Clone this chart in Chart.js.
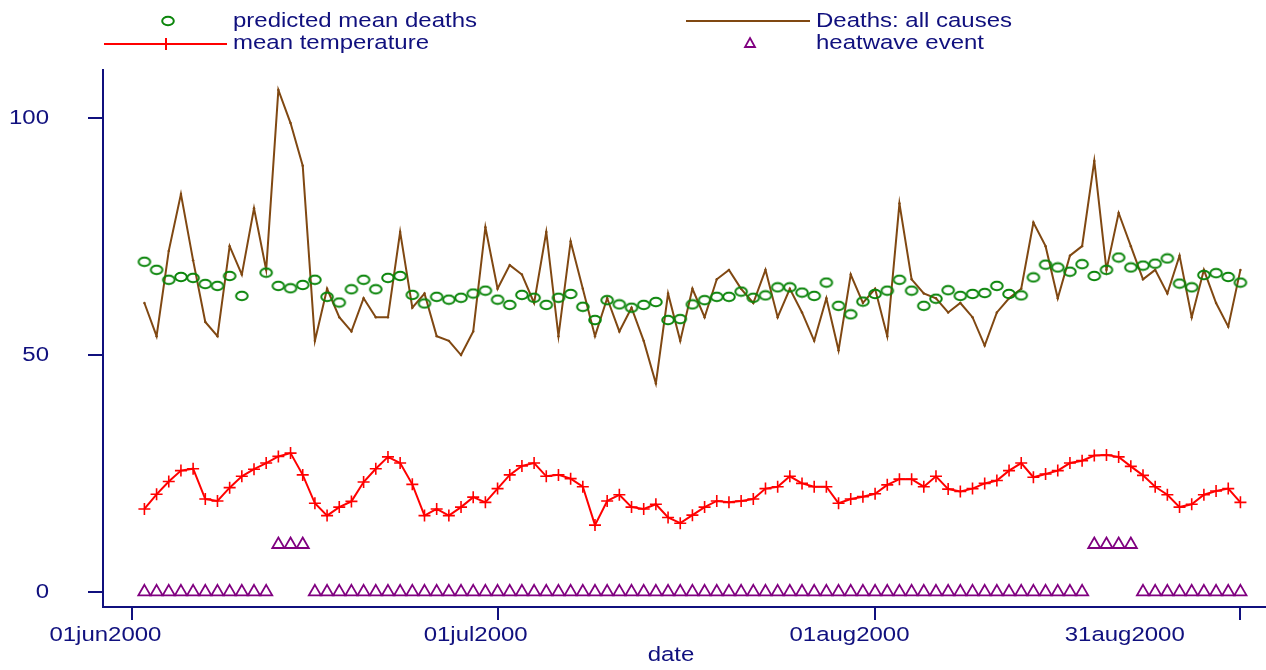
<!DOCTYPE html>
<html lang="en">
<head>
  <meta charset="UTF-8" />
  <title>Deaths, temperature and heatwaves - summer 2000</title>
  <script src="https://cdn.jsdelivr.net/npm/chart.js"></script>
  <style>
    * {
      margin: 0;
      padding: 0;
      box-sizing: border-box;
    }
    body {
      background: #fff;
      width: 1266px;
      height: 670px;
      overflow: hidden;
    }
    .chart-box {
      position: relative;
      width: 1266px;
      height: 670px;
    }
  </style>
</head>
<body>

  <div class="chart-box">
    <canvas id="deathsChart" width="1266" height="670"></canvas>
  </div>

  <script>
    // day number counted from 01jun2000 (day 0)
    const dayIndex = [
      1, 2, 3, 4, 5, 6, 7, 8, 9, 10, 11, 12, 13, 14, 15, 16, 17, 18, 19, 20,
      21, 22, 23, 24, 25, 26, 27, 28, 29, 30, 31, 32, 33, 34, 35, 36, 37, 38, 39, 40,
      41, 42, 43, 44, 45, 46, 47, 48, 49, 50, 51, 52, 53, 54, 55, 56, 57, 58, 59, 60,
      61, 62, 63, 64, 65, 66, 67, 68, 69, 70, 71, 72, 73, 74, 75, 76, 77, 78, 79, 80,
      81, 82, 83, 84, 85, 86, 87, 88, 89, 90, 91
    ];

    const deathsAll = [
      61, 54, 72, 84, 70, 57, 54, 73, 67, 81,
      68, 106, 99, 90, 53, 64, 58, 55, 62, 58,
      58, 76, 60, 63, 54, 53, 50, 55, 77, 64,
      69, 67, 61, 76, 54, 74, 64, 54, 62, 55,
      60, 53, 44, 63, 53, 64, 58, 66, 68, 64,
      61, 68, 58, 64, 59, 53, 62, 51, 67, 61,
      64, 54, 82, 66, 63, 62, 59, 61, 58, 52,
      59, 62, 64, 78, 73, 62, 71, 73, 91, 68,
      80, 73, 66, 68, 63, 71, 58, 68, 61, 56, 68
    ];

    const predictedDeaths = [
      69.7, 68.0, 65.9, 66.5, 66.3, 65.0, 64.6, 66.7, 62.5, null,
      67.4, 64.6, 64.1, 64.8, 65.9, 62.3, 61.1, 63.9, 65.9, 63.9,
      66.3, 66.7, 62.7, 60.9, 62.3, 61.7, 62.1, 63.0, 63.6, 61.7,
      60.6, 62.7, 62.1, 60.6, 62.1, 62.9, 60.2, 57.4, 61.6, 60.7,
      60.0, 60.6, 61.2, 57.4, 57.6, 60.7, 61.6, 62.3, 62.3, 63.4,
      62.1, 62.6, 64.3, 64.3, 63.2, 62.5, 65.3, 60.4, 58.6, 61.3,
      62.9, 63.6, 65.9, 63.6, 60.4, 61.9, 63.7, 62.5, 62.9, 63.1,
      64.6, 62.9, 62.6, 66.4, 69.1, 68.5, 67.6, 69.2, 66.7, 68.0,
      70.6, 68.5, 68.9, 69.3, 70.4, 65.1, 64.3, 66.9, 67.3, 66.5, 65.3
    ];

    const meanTemp = [
      17.5, 20.6, 23.3, 25.6, 26.0, 19.6, 19.2, 22.0, 24.4, 25.9,
      27.2, 28.6, 29.3, 24.7, 18.7, 16.1, 17.9, 19.1, 23.2, 26.0,
      28.5, 27.2, 22.7, 16.1, 17.5, 16.1, 17.9, 20.0, 18.9, 21.8,
      24.7, 26.6, 27.2, 24.4, 24.7, 23.9, 22.2, 14.1, 19.2, 20.5,
      17.9, 17.5, 18.5, 15.7, 14.5, 16.2, 17.9, 19.2, 18.9, 19.2,
      19.6, 21.8, 22.2, 24.4, 22.9, 22.2, 22.2, 18.7, 19.6, 20.1,
      20.7, 22.6, 23.8, 23.8, 22.2, 24.4, 21.7, 21.2, 21.8, 22.9,
      23.5, 25.6, 27.2, 24.2, 24.9, 25.6, 27.2, 27.7, 28.8, 28.9,
      28.5, 26.5, 24.6, 22.2, 20.5, 17.9, 18.5, 20.5, 21.3, 21.8, 18.9
    ];

    const heatwaveEvent = [
      0, 0, 0, 0, 0, 0, 0, 0, 0, 0,
      0, 10, 10, 10, 0, 0, 0, 0, 0, 0,
      0, 0, 0, 0, 0, 0, 0, 0, 0, 0,
      0, 0, 0, 0, 0, 0, 0, 0, 0, 0,
      0, 0, 0, 0, 0, 0, 0, 0, 0, 0,
      0, 0, 0, 0, 0, 0, 0, 0, 0, 0,
      0, 0, 0, 0, 0, 0, 0, 0, 0, 0,
      0, 0, 0, 0, 0, 0, 0, 0, 10, 10,
      10, 10, 0, 0, 0, 0, 0, 0, 0, 0, 0
    ];

    const xTickDays = [0, 30, 61, 91];
    const xTickLabels = ["01jun2000", "01jul2000", "01aug2000", "31aug2000"];
    const yTickValues = [0, 50, 100];

    const NAVY = "#10107e";
    const GREEN = "#0a850a";
    const BROWN = "#804812";
    const RED = "#ff0000";
    const PURPLE = "#800080";
    const FONT = "20.5px 'Liberation Sans', Arial, sans-serif";
    const TEXT_STRETCH = 1.17;   // the original text is drawn a bit wide

    // stata places the date labels left of their ticks, the last one a lot
    const xLabelAt = [-2.2, 28.2, 58.9, 81.5];

    const pts = (ys) => dayIndex.map((d, i) => ({ x: d, y: ys[i] }));

    function ellipseMarker(color) {
      const c = document.createElement("canvas");
      c.width = 16;
      c.height = 12;
      const g = c.getContext("2d");
      g.strokeStyle = color;
      g.lineWidth = 2;
      g.beginPath();
      g.ellipse(8, 6, 5.8, 4.2, 0, 0, Math.PI * 2);
      g.stroke();
      return c;
    }

    function wideText(ctx, text, x, y, align) {
      ctx.save();
      ctx.translate(x, y);
      ctx.scale(TEXT_STRETCH, 1);
      ctx.textAlign = align;
      ctx.textBaseline = "middle";
      ctx.fillText(text, 0, 0);
      ctx.restore();
    }

    const textPlugin = {
      id: "stataText",
      afterDraw(chart) {
        const ctx = chart.ctx;
        const xs = chart.scales.x;
        const ys = chart.scales.y;
        ctx.save();
        ctx.font = FONT;
        ctx.fillStyle = NAVY;

        yTickValues.forEach(v => wideText(ctx, String(v), 49, ys.getPixelForValue(v), "right"));
        xTickLabels.forEach((t, i) => wideText(ctx, t, xs.getPixelForValue(xLabelAt[i]), 635, "center"));
        wideText(ctx, "date", 671, 655, "center");

        // legend, two columns
        wideText(ctx, "predicted mean deaths", 233, 21, "left");
        wideText(ctx, "Deaths: all causes", 816, 21, "left");
        wideText(ctx, "mean temperature", 233, 43, "left");
        wideText(ctx, "heatwave event", 816, 43, "left");

        ctx.drawImage(ellipseMarker(GREEN), 160, 15);

        ctx.strokeStyle = BROWN;
        ctx.lineWidth = 2;
        ctx.beginPath();
        ctx.moveTo(686, 21);
        ctx.lineTo(810, 21);
        ctx.stroke();

        ctx.strokeStyle = RED;
        ctx.beginPath();
        ctx.moveTo(104, 44);
        ctx.lineTo(227, 44);
        ctx.moveTo(166, 38);
        ctx.lineTo(166, 50);
        ctx.stroke();

        ctx.strokeStyle = PURPLE;
        ctx.lineWidth = 1.8;
        ctx.beginPath();
        ctx.moveTo(750, 38);
        ctx.lineTo(755, 47);
        ctx.lineTo(745, 47);
        ctx.closePath();
        ctx.stroke();
        ctx.restore();
      }
    };

    const ctx = document.getElementById("deathsChart").getContext("2d");
    new Chart(ctx, {
      type: "line",
      data: {
        datasets: [
          {
            label: "heatwave event",
            data: pts(heatwaveEvent),
            showLine: false,
            pointStyle: "triangle",
            pointRadius: 7,
            pointBorderColor: PURPLE,
            pointBackgroundColor: "rgba(0,0,0,0)",
            pointBorderWidth: 1.8,
            order: 0
          },
          {
            label: "predicted mean deaths",
            data: pts(predictedDeaths),
            showLine: false,
            pointStyle: ellipseMarker(GREEN),
            pointRadius: 6,
            order: 1
          },
          {
            label: "mean temperature",
            data: pts(meanTemp),
            borderColor: RED,
            borderWidth: 2,
            pointStyle: "cross",
            pointRadius: 6,
            pointBorderColor: RED,
            pointBorderWidth: 1.6,
            tension: 0,
            order: 2
          },
          {
            label: "Deaths: all causes",
            data: pts(deathsAll),
            borderColor: BROWN,
            borderWidth: 2,
            pointRadius: 1.2,
            pointBorderWidth: 0,
            pointBackgroundColor: BROWN,
            tension: 0,
            order: 3
          }
        ]
      },
      options: {
        responsive: false,
        animation: false,
        devicePixelRatio: 1,
        events: [],
        layout: {
          autoPadding: false,
          padding: { top: 70, right: 0, bottom: 0, left: 0 }
        },
        plugins: {
          legend: { display: false },
          tooltip: { enabled: false }
        },
        scales: {
          x: {
            type: "linear",
            min: -2.4,
            max: 93.1,
            afterBuildTicks: s => { s.ticks = xTickDays.map(v => ({ value: v })); },
            afterFit: s => { s.height = 63; },
            ticks: { display: false },
            grid: { drawOnChartArea: false, drawTicks: true, tickLength: 13, color: NAVY, lineWidth: 2 },
            border: { display: true, color: NAVY, width: 2 }
          },
          y: {
            type: "linear",
            min: -3.2,
            max: 110.2,
            afterBuildTicks: s => { s.ticks = yTickValues.map(v => ({ value: v })); },
            afterFit: s => { s.width = 103; },
            ticks: { display: false },
            grid: { drawOnChartArea: false, drawTicks: true, tickLength: 15, color: NAVY, lineWidth: 2 },
            border: { display: true, color: NAVY, width: 2 }
          }
        }
      },
      plugins: [textPlugin]
    });
  </script>
</body>
</html>
